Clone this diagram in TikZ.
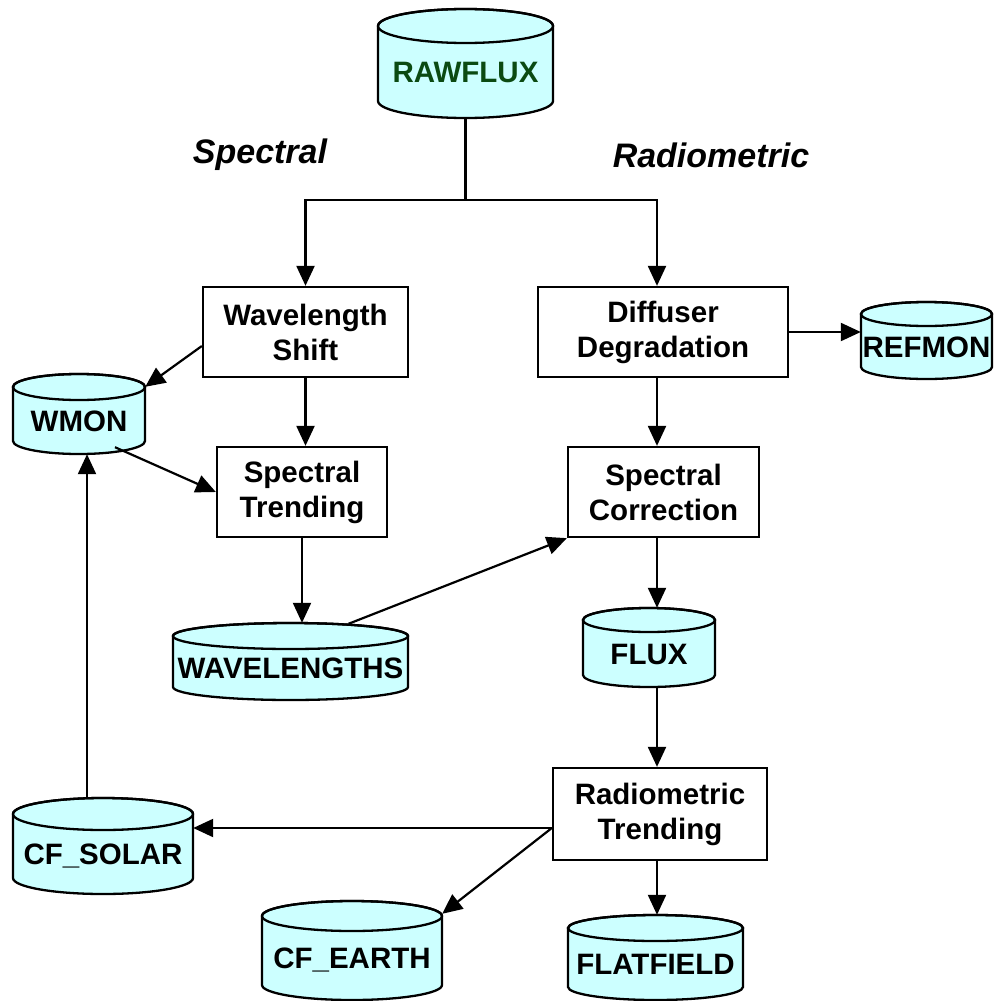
\documentclass[tikz,border=0pt]{standalone}
\usepackage{fontspec}
\setmainfont{Liberation Sans}
\usetikzlibrary{calc,arrows.meta}

\definecolor{drumfill}{HTML}{CCFFFF}
\definecolor{rawgreen}{HTML}{0B4A12}

\tikzset{
  procbox/.style={draw, line width=2.3pt, fill=white, align=center, inner sep=0pt,
    font=\fontsize{29.5}{35}\selectfont\bfseries},
  drumline/.style={draw, line width=2.3pt, fill=drumfill},
  drumtext/.style={inner sep=0pt, text height=21pt, text depth=0pt,
    font=\fontsize{29.5}{35}\selectfont\bfseries},
  flow/.style={line width=2.2pt, -{Triangle[length=20pt,width=18pt]}},
  link/.style={line width=2.2pt},
  sectlabel/.style={font=\fontsize{34}{40}\selectfont\bfseries\itshape},
}

% data store: name, left x, right x, top-ellipse y, bottom-ellipse y, y radius, text colour, label
\newcommand{\drum}[8]{%
  \pgfmathsetmacro\drx{(#3-#2)/2}%
  \pgfmathsetmacro\drc{(#3+#2)/2}%
  \pgfmathsetmacro\drh{#5-#4+2*#6}%
  \pgfmathsetmacro\drm{(#4+#5)/2}%
  \pgfmathsetmacro\drt{(#4+#6+#5)/2}%
  \path[drumline] (#2,#4) -- (#2,#5)
    arc[start angle=180, end angle=360, x radius=\drx pt, y radius=#6pt]
    -- (#3,#4)
    arc[start angle=0, end angle=180, x radius=\drx pt, y radius=#6pt] -- cycle;
  \draw[line width=2.3pt] (\drc,#4) ellipse[x radius=\drx pt, y radius=#6pt];
  \node[inner sep=0pt, minimum width=2*\drx pt, minimum height=\drh pt] (#1) at (\drc,\drm) {};
  \node[drumtext, text=#7] at (\drc,\drt) {#8};
}

\begin{document}
\begin{tikzpicture}[x=1pt, y=-1pt]
\useasboundingbox (0,0) rectangle (994,1001);

% data stores
\drum{rawflux}{378}{553}{26}{101}{17}{rawgreen}{RAWFLUX}
\drum{wmon}{13}{145}{387}{441}{13}{black}{WMON}
\drum{refmon}{861}{992}{314}{367}{12}{black}{REFMON}
\drum{wl}{173}{408}{636}{687}{13}{black}{WAVELENGTHS}
\drum{flux}{583}{715}{620}{675}{12}{black}{FLUX}
\drum{cfsolar}{13}{193}{814}{878}{16}{black}{CF\_SOLAR}
\drum{cfearth}{262}{442}{916}{985}{15}{black}{CF\_EARTH}
\drum{flatfield}{568}{743}{928}{987}{13}{black}{FLATFIELD}

% processing steps
\node[procbox, minimum width=205pt, minimum height=90pt] (wshift) at (305.5,332) {Wavelength\\Shift};
\node[procbox, minimum width=250pt, minimum height=90pt] (diff) at (663,332) {Diffuser\\Degradation};
\node[procbox, minimum width=170pt, minimum height=90pt] (strend) at (302,492) {Spectral\\Trending};
\node[procbox, minimum width=191pt, minimum height=90pt] (scorr) at (663.5,492) {Spectral\\Correction};
\node[procbox, minimum width=214pt, minimum height=92pt] (rtrend) at (660,814) {Radiometric\\Trending};

% branch headings
\node[sectlabel] (lspec) at (260,155) {Spectral};
\node[sectlabel] (lrad) at (711,155) {Radiometric};

% helper coordinates
\coordinate (split) at (465.5,200);
\coordinate (colR) at (657,0);
\coordinate (colL) at (87,0);

% connectors
\draw[link] (rawflux.south) -- (split);
\draw[flow] (split) -| (wshift.north);
\draw[flow] (split) -| (diff.north -| colR);

\draw[flow] ($(wshift.west)+(0,14)$) -- ($(wmon.north east)+(0,13)$);
\draw[flow] (wshift.south) -- (wshift.south |- strend.north);
\draw[flow] ($(wmon.south)+(36,-7)$) -- (strend.west);
\draw[flow] (strend.south) -- (strend.south |- wl.north);
\draw[flow] ($(wl.north)+(58,1)$) -- (scorr.south west);

\draw[flow] (diff.east) -- (diff.east -| refmon.west);
\draw[flow] (diff.south -| colR) -- (scorr.north -| colR);
\draw[flow] (scorr.south -| colR) -- (flux.north -| colR);
\draw[flow] (flux.south -| colR) -- (rtrend.north -| colR);

\coordinate (rout) at ($(rtrend.west)+(0,14)$);
\draw[flow] (rout) -- (rout -| cfsolar.east);
\draw[flow] (rout) -- ($(cfearth.north east)+(0,13)$);
\draw[flow] (rtrend.south -| colR) -- (flatfield.north -| colR);

\draw[flow] (cfsolar.north -| colL) -- (wmon.south -| colL);
\end{tikzpicture}
\end{document}
